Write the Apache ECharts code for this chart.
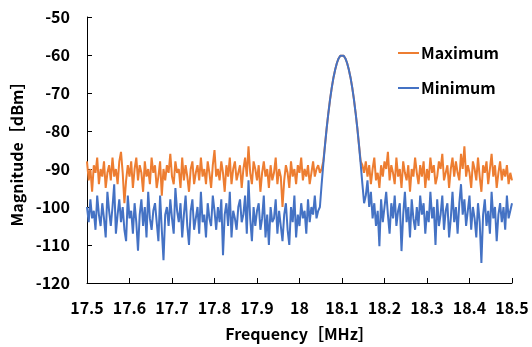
<!DOCTYPE html>
<html>
<head>
<meta charset="utf-8">
<script src="https://cdn.jsdelivr.net/npm/echarts@6/dist/echarts.min.js"></script>
<style>
  html, body { margin: 0; padding: 0; background: #fff; }
  #chart { width: 532px; height: 347px; }
</style>
</head>
<body>
<div id="chart"></div>
<script>
// sweep: 17.5 MHz to 18.5 MHz, 251 points
const freqStart = 17.5
const freqStep = 0.004

const maxDbm = [
  -88, -93, -90, -96, -89, -91, -87, -94, -90, -92,
  -88, -95, -91, -89, -93, -87, -92, -90, -94, -88,
  -85.5, -91, -99, -93, -89, -92, -88, -95, -90, -87,
  -93, -89, -91, -96, -88, -92, -90, -94, -87, -91,
  -89, -95, -92, -88, -97, -90, -93, -89, -91, -86,
  -92, -94, -88, -91, -90, -95, -87, -93, -89, -92,
  -96, -90, -88, -94, -91, -89, -93, -87, -92, -90,
  -94, -88, -91, -95, -89, -85, -92, -90, -93, -88,
  -91, -96, -89, -92, -87, -94, -90, -88, -93, -91,
  -89, -95, -90, -87, -92, -84, -91, -94, -88, -90,
  -93, -89, -96, -91, -88, -92, -90, -95, -89, -93,
  -91, -87, -94, -90, -92, -100, -93, -89, -91, -95,
  -88, -92, -90, -94, -89, -91, -87, -93, -90, -92,
  -89, -94, -91, -88, -92, -90, -89,
  // carrier
  -91, -90, -88, -83.7, -79.2, -75.2, -71.6, -68.5, -65.9, -63.8, -62.1, -60.9, -60.2,
  -60,
  -60.2, -60.9, -62.1, -63.8, -65.9, -68.5, -71.6, -75.2, -79.2, -83.7, -88, -89, -91,
  -88, -92, -89, -94, -90, -87, -93, -91, -95, -89,
  -92, -88, -90, -85.5, -93, -89, -91, -94, -87, -92,
  -90, -95, -88, -91, -93, -89, -96, -90, -92, -87,
  -91, -94, -89, -92, -88, -95, -90, -93, -87, -91,
  -89, -94, -92, -88, -90, -86, -93, -91, -89, -95,
  -90, -87, -92, -88, -91, -93, -86, -90, -84, -92,
  -89, -91, -95, -88, -90, -93, -87, -92, -96, -89,
  -91, -88, -94, -90, -86, -92, -89, -95, -91, -88,
  -93, -90, -92, -89, -94, -91, -93
]

const minDbm = [
  -100, -104, -98, -103, -101, -106, -97, -102, -105, -99,
  -103, -108, -96, -101, -105, -100, -94, -107, -102, -98,
  -104, -100, -106, -109, -97, -103, -101, -107, -99, -104,
  -111.5, -102, -98, -105, -100, -108, -96, -103, -106, -101,
  -99, -104, -109, -97, -106, -114, -102, -100, -105, -98,
  -103, -107, -95, -101, -104, -99, -108, -102, -97, -105,
  -110, -101, -98, -106, -103, -100, -107, -96, -104, -102,
  -108, -99, -103, -105, -97, -101, -106, -100, -104, -98,
  -112.7, -102, -99, -105, -96, -108, -101, -103, -106, -100,
  -98, -104, -102, -97, -107, -93, -103, -109, -100, -105,
  -101, -99, -106, -103, -97, -108, -102, -110, -100, -104,
  -103, -98, -107, -101, -105, -109, -102, -99, -106, -110,
  -100, -104, -97, -108, -102, -105, -99, -103, -101, -107,
  -98, -104, -100, -102, -97, -103, -101,
  // carrier
  -100, -94.1, -88.7, -83.7, -79.2, -75.2, -71.6, -68.5, -65.9, -63.8, -62.1, -60.9, -60.2,
  -60,
  -60.2, -60.9, -62.1, -63.8, -65.9, -68.5, -71.6, -75.2, -79.2, -83.7, -88.7, -94, -99,
  -97, -93, -100, -96, -103, -99, -105, -101, -110.3, -98,
  -104, -100, -96, -102, -107, -99, -103, -97, -105, -101,
  -99, -111.6, -102, -96, -104, -100, -108, -98, -103, -106,
  -100, -105, -97, -102, -99, -107, -101, -104, -96, -103,
  -100, -110, -98, -105, -102, -97, -106, -101, -99, -108,
  -103, -96, -104, -100, -107, -99, -94, -102, -98, -105,
  -101, -97, -106, -100, -103, -108, -99, -104, -114.7, -102,
  -98, -105, -101, -107, -96, -103, -100, -109, -102, -99,
  -104, -100, -106, -97, -103, -101, -99
]

const seriesNames = ['Maximum', 'Minimum']
const seriesColors = ['#ED7D31', '#4472C4']

const font = '"Noto Sans CJK JP", "Noto Sans", sans-serif'

const toPairs = (values) => values.map((v, i) => [freqStart + i * freqStep, v])

const chart = echarts.init(document.getElementById('chart'))

chart.setOption({
  animation: false,
  textStyle: { fontFamily: font },
  grid: { left: 87, right: 20, top: 17, bottom: 62 },
  legend: {
    orient: 'vertical',
    left: 393,
    top: 40,
    itemGap: 19,
    itemWidth: 21,
    itemHeight: 2,
    icon: 'rect',
    data: seriesNames,
    textStyle: { color: '#000', fontSize: 16, fontWeight: 'bold', fontFamily: font, padding: [0, 0, 0, -3] },
  },
  xAxis: {
    type: 'value',
    min: 17.5,
    max: 18.5,
    interval: 0.1,
    name: 'Frequency［MHz］',
    nameLocation: 'middle',
    nameGap: 43,
    nameTextStyle: { color: '#000', fontSize: 16, fontWeight: 'bold', fontFamily: font },
    axisLine: { lineStyle: { color: '#000', width: 1 } },
    axisTick: { inside: true, length: 5, lineStyle: { color: '#000' } },
    axisLabel: {
      color: '#000',
      fontSize: 16,
      fontWeight: 'bold',
      margin: 17,
      formatter: (v) => String(parseFloat(v.toFixed(1))),
    },
    splitLine: { show: false },
  },
  yAxis: {
    type: 'value',
    min: -120,
    max: -50,
    interval: 10,
    name: 'Magnitude［dBm］',
    nameLocation: 'middle',
    nameGap: 60,
    nameTextStyle: { color: '#000', fontSize: 16, fontWeight: 'bold', fontFamily: font },
    axisLine: { show: true, lineStyle: { color: '#000', width: 1 } },
    axisTick: { show: true, inside: true, length: 5, lineStyle: { color: '#000' } },
    axisLabel: { color: '#000', fontSize: 16, fontWeight: 'bold', margin: 17 },
    splitLine: { show: false },
  },
  series: [
    {
      name: seriesNames[0],
      type: 'line',
      symbol: 'none',
      color: seriesColors[0],
      lineStyle: { color: seriesColors[0], width: 2 },
      data: toPairs(maxDbm),
    },
    {
      name: seriesNames[1],
      type: 'line',
      symbol: 'none',
      color: seriesColors[1],
      lineStyle: { color: seriesColors[1], width: 2 },
      data: toPairs(minDbm),
    },
  ],
})
</script>
</body>
</html>
